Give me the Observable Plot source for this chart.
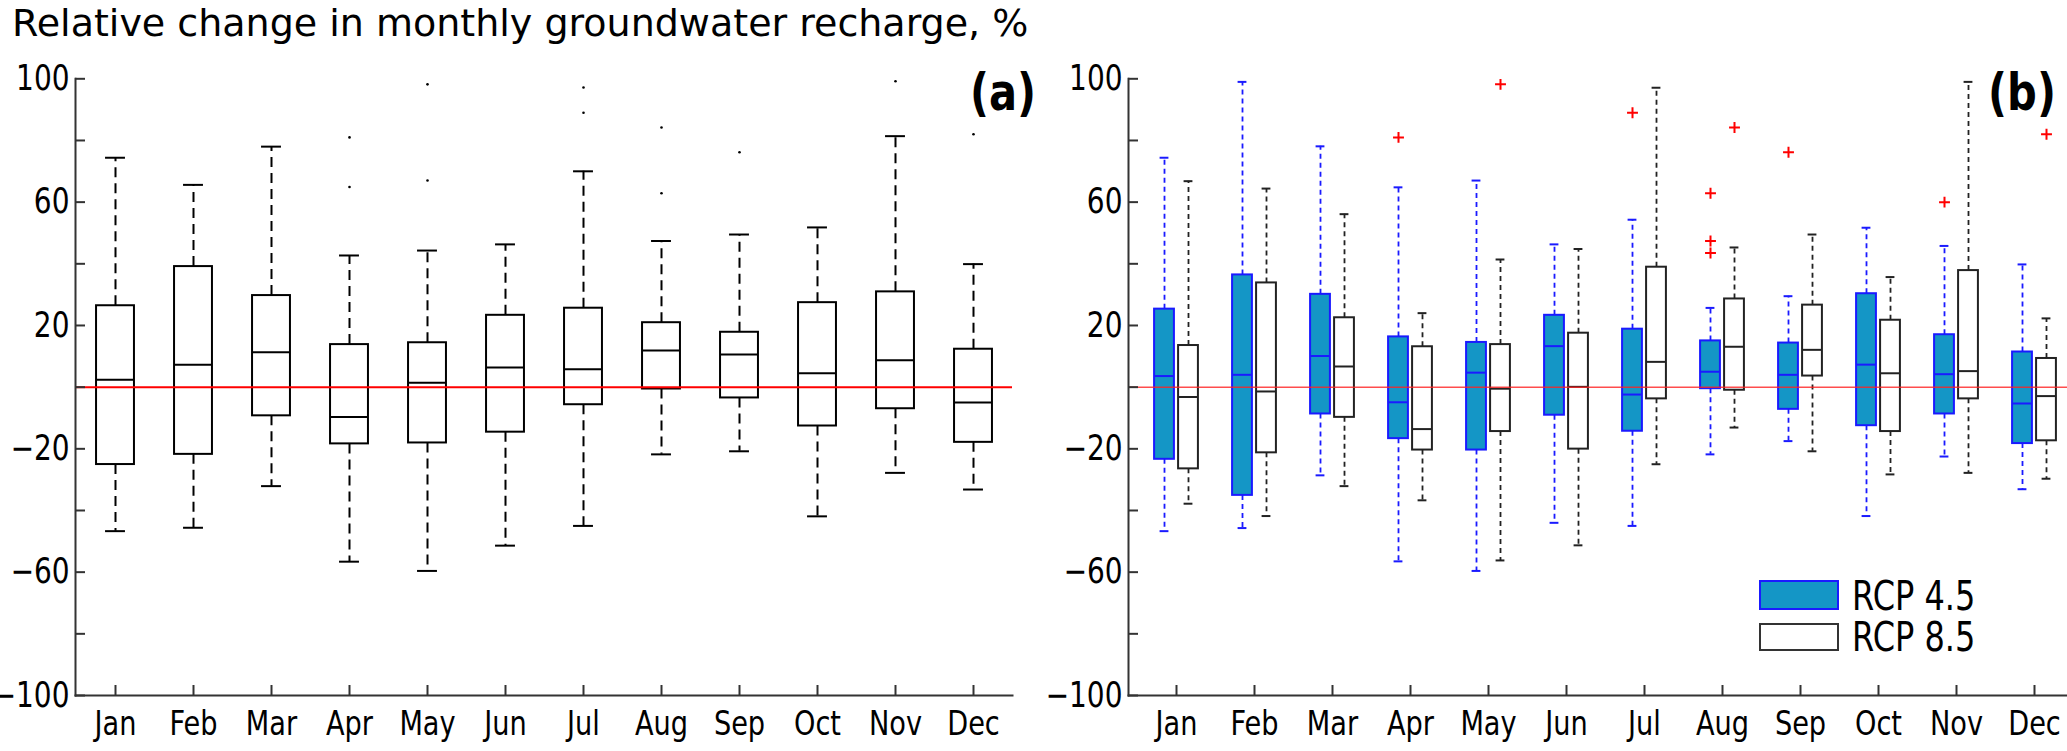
<!DOCTYPE html>
<html>
<head>
<meta charset="utf-8">
<script src="https://cdn.jsdelivr.net/npm/d3@7"></script>
<script src="https://cdn.jsdelivr.net/npm/@observablehq/plot@0.6"></script>
<style>
  html, body { margin: 0; padding: 0; background: #fff; }
  #wrap { position: relative; width: 2067px; height: 751px; overflow: hidden; font-family: "DejaVu Sans", sans-serif; color: #000; }
  .abs { position: absolute; white-space: nowrap; }
  .sq { transform: scaleX(0.8); transform-origin: left center; }
  .sqc { transform: scaleX(0.8); transform-origin: center center; text-align: center; }
  svg { position: absolute; overflow: visible; }
</style>
</head>
<body>
<div id="wrap">
  <div class="abs" id="title" style="left:12px;top:1px;font-size:38px;line-height:44px;">Relative change in monthly groundwater recharge, %</div>
  <div class="abs sqc" style="left:903px;width:200px;top:65.5px;font-size:52px;line-height:52px;font-weight:bold;">(a)</div>
  <div class="abs sqc" style="left:1922px;width:200px;top:65.5px;font-size:52px;line-height:52px;font-weight:bold;">(b)</div>
</div>
<script>
// ---------- data ----------
const months = ["Jan","Feb","Mar","Apr","May","Jun","Jul","Aug","Sep","Oct","Nov","Dec"];
const yLabelTicks = [-100, -60, -20, 20, 60, 100];
const yMinorTicks = [-100, -80, -60, -40, -20, 0, 20, 40, 60, 80, 100];
const refLine = [0];
const seriesNames = ["RCP 4.5", "RCP 8.5"];

// Panel (a): all projections
const aLow  = [-46.7, -45.6, -32.1, -56.6, -59.6, -51.4, -45.0, -21.8, -20.8, -41.9, -27.8, -33.2];
const aQ1   = [-25.1, -21.8,  -9.3, -18.4, -18.1, -14.6,  -5.7,  -0.6,  -3.5, -12.6,  -7.0, -17.9];
const aMed  = [  2.4,   7.3,  11.3,  -9.7,   1.4,   6.4,   5.8,  11.9,  10.6,   4.5,   8.7,  -5.0];
const aQ3   = [ 26.4,  39.1,  29.7,  13.8,  14.4,  23.3,  25.6,  20.9,  17.8,  27.4,  30.9,  12.3];
const aHigh = [ 74.4,  65.6,  78.0,  42.7,  44.3,  46.3,  70.0,  47.4,  49.5,  51.8,  81.4,  39.9];
const aOutMonth = ["Apr","Apr","May","May","Jul","Jul","Aug","Aug","Sep","Nov","Dec"];
const aOutValue = [ 81.0, 64.9, 98.2, 67.0, 97.2, 89.0, 84.2, 62.9, 76.2, 99.2, 82.0];

// Panel (b): RCP 4.5
const b45Low  = [-46.7, -45.7, -28.6, -56.5, -59.6, -44.0, -45.0, -21.8, -17.5, -41.8, -22.5, -33.1];
const b45Q1   = [-23.4, -35.1,  -8.7, -16.7, -20.4,  -9.1, -14.3,  -0.5,  -7.2, -12.5,  -8.7, -18.3];
const b45Med  = [  3.6,   4.0,  10.1,  -4.9,   4.7,  13.3,  -2.4,   5.0,   4.0,   7.3,   4.2,  -5.3];
const b45Q3   = [ 25.3,  36.4,  30.1,  16.3,  14.5,  23.3,  18.8,  15.0,  14.3,  30.3,  17.0,  11.4];
const b45High = [ 74.4,  99.0,  78.1,  64.8,  67.0,  46.3,  54.3,  25.7,  29.5,  51.7,  45.8,  39.8];
const b45OutMonth = ["Apr","Jul","Aug","Aug","Aug","Sep","Nov"];
const b45OutValue = [ 81.0, 89.0, 62.9, 47.4, 43.5, 76.2, 60.0];

// Panel (b): RCP 8.5
const b85Low  = [-37.8, -41.8, -32.1, -36.7, -56.2, -51.3, -25.0, -13.1, -20.8, -28.3, -27.8, -29.7];
const b85Q1   = [-26.5, -21.3,  -9.8, -20.4, -14.4, -20.1,  -3.8,  -1.0,   3.6, -14.4,  -3.8, -17.4];
const b85Med  = [ -3.2,  -1.4,   6.7, -13.6,  -0.5,   0.1,   8.2,  13.1,  12.1,   4.5,   5.2,  -2.9];
const b85Q3   = [ 13.5,  33.8,  22.5,  13.1,  13.8,  17.5,  38.9,  28.6,  26.6,  21.7,  37.8,   9.3];
const b85High = [ 66.8,  64.4,  56.1,  24.0,  41.4,  44.8,  97.1,  45.3,  49.5,  35.7,  99.0,  22.3];
const b85OutMonth = ["May","Aug","Dec"];
const b85OutValue = [ 98.2, 84.2, 82.0];

// ---------- build tables ----------
const table = (lo, q1, md, q3, hi) => months.map((m, i) => ({month: m, lo: lo[i], q1: q1[i], med: md[i], q3: q3[i], hi: hi[i]}));
const outTable = (ms, vs) => ms.map((m, i) => ({month: m, value: vs[i]}));
const dataA = table(aLow, aQ1, aMed, aQ3, aHigh);
const outA = outTable(aOutMonth, aOutValue);
const data45 = table(b45Low, b45Q1, b45Med, b45Q3, b45High);
const data85 = table(b85Low, b85Q1, b85Med, b85Q3, b85High);
const out45 = outTable(b45OutMonth, b45OutValue);
const out85 = outTable(b85OutMonth, b85OutValue);

// ---------- helpers ----------
const svgTop = 50, svgH = 701;
const mTop = 28.3, mBottom = 56;
const axisColor = "#333";

// horizontally condense the axis labels (the source figure uses narrow glyphs)
function squeeze(svg, k) {
  svg.querySelectorAll("text").forEach(t => {
    const x = +t.getAttribute("x") || 0;
    const tr = t.getAttribute("transform") || "";
    t.setAttribute("transform", `${tr} translate(${x},0) scale(${k},1) translate(${-x},0)`);
  });
}

function axes(xLabelPad) {
  return [
    Plot.frame({anchor: "left", stroke: axisColor, strokeWidth: 2}),
    Plot.frame({anchor: "bottom", stroke: axisColor, strokeWidth: 2}),
    Plot.axisY({ticks: yMinorTicks, tickSize: -10, tickFormat: () => "", stroke: axisColor, strokeWidth: 2, label: null}),
    Plot.axisY({ticks: yLabelTicks, tickSize: 0, tickPadding: 6, fontSize: 35, label: null, fill: "#000"}),
    Plot.axisX({tickSize: -10, tickFormat: () => "", stroke: axisColor, strokeWidth: 2, label: null}),
    Plot.axisX({tickSize: 0, tickPadding: xLabelPad, fontSize: 34, label: null, fill: "#000"})
  ];
}

function boxMarks(data, outs, o) {
  const {bw, boxW, capW, dx, boxFill, boxStroke, whiskStroke, dash, sw, outMark} = o;
  const boxInL = bw / 2 + dx - boxW / 2, boxInR = bw / 2 - dx - boxW / 2;
  const capInL = bw / 2 + dx - capW / 2, capInR = bw / 2 - dx - capW / 2;
  return [
    Plot.ruleX(data, {x: "month", y1: "q3", y2: "hi", dx, stroke: whiskStroke, strokeWidth: sw, strokeDasharray: dash}),
    Plot.ruleX(data, {x: "month", y1: "q1", y2: "lo", dx, stroke: whiskStroke, strokeWidth: sw, strokeDasharray: dash}),
    Plot.tickY(data, {x: "month", y: "hi", insetLeft: capInL, insetRight: capInR, stroke: whiskStroke, strokeWidth: 2}),
    Plot.tickY(data, {x: "month", y: "lo", insetLeft: capInL, insetRight: capInR, stroke: whiskStroke, strokeWidth: 2}),
    Plot.barY(data, {x: "month", y1: "q1", y2: "q3", insetLeft: boxInL, insetRight: boxInR, fill: boxFill, stroke: boxStroke, strokeWidth: 2}),
    Plot.tickY(data, {x: "month", y: "med", insetLeft: boxInL, insetRight: boxInR, stroke: boxStroke, strokeWidth: 2}),
    outMark(outs, dx)
  ];
}

const wrap = document.getElementById("wrap");

// ---------- panel (a) ----------
const aRange = [75, 1012];
const bwA = (aRange[1] - aRange[0]) / months.length;
const plotA = Plot.plot({
  width: 1030, height: svgH,
  marginLeft: 75, marginRight: 18, marginTop: mTop, marginBottom: mBottom,
  style: {fontFamily: "DejaVu Sans", fontSize: "34px", color: "#000", background: "transparent"},
  x: {type: "band", domain: months, padding: 0, range: aRange},
  y: {domain: [-100, 100]},
  marks: [
    ...boxMarks(dataA, outA, {
      bw: bwA, boxW: 38, capW: 20, dx: 0, boxFill: "#fff", boxStroke: "#000",
      whiskStroke: "#000", dash: "10,6", sw: 2,
      outMark: (d, dx) => Plot.dot(d, {x: "month", y: "value", dx, r: 1.3, fill: "#000", stroke: null})
    }),
    Plot.ruleY(refLine, {stroke: "#f00", strokeWidth: 2}),
    ...axes(15)
  ]
});
plotA.style.left = "0px";
plotA.style.top = svgTop + "px";
squeeze(plotA, 0.8);
wrap.appendChild(plotA);

// ---------- panel (b) ----------
const bLeft = 1040;
const bRange = [1136 - bLeft, 2074 - bLeft];
const bwB = (bRange[1] - bRange[0]) / months.length;
const plus = (color) => (d, dx) => Plot.dot(d, {x: "month", y: "value", dx, symbol: "plus", r: 3.6, stroke: color, strokeWidth: 2});
const plotB = Plot.plot({
  width: 2067 - bLeft, height: svgH,
  marginLeft: 1128 - bLeft, marginRight: 0, marginTop: mTop, marginBottom: mBottom,
  style: {fontFamily: "DejaVu Sans", fontSize: "34px", color: "#000", background: "transparent"},
  x: {type: "band", domain: months, padding: 0, range: bRange},
  y: {domain: [-100, 100]},
  marks: [
    ...boxMarks(data45, out45, {
      bw: bwB, boxW: 20, capW: 9, dx: -12, boxFill: "#1496c6", boxStroke: "#1a1aff",
      whiskStroke: "#1a1aff", dash: "5,4", sw: 1.8, outMark: plus("#ff0000")
    }),
    ...boxMarks(data85, out85, {
      bw: bwB, boxW: 20, capW: 9, dx: 12, boxFill: "#fff", boxStroke: "#222",
      whiskStroke: "#222", dash: "5,4", sw: 1.8, outMark: plus("#ff0000")
    }),
    Plot.ruleY(refLine, {stroke: "#ff2020", strokeOpacity: 0.8, strokeWidth: 1.5}),
    ...axes(15)
  ]
});
plotB.style.left = bLeft + "px";
plotB.style.top = svgTop + "px";
squeeze(plotB, 0.8);
wrap.appendChild(plotB);

// ---------- legend (inside panel b) ----------
const legendStyles = [
  {fill: "#1496c6", stroke: "#1a1aff", top: 580, h: 30, baseline: 610},
  {fill: "#fff", stroke: "#333", top: 623, h: 28, baseline: 651}
];
const lgFs = 40, lgLh = 34;
const lgBase = (lgLh - 1.164 * lgFs) / 2 + 0.928 * lgFs;
seriesNames.forEach((name, i) => {
  const s = legendStyles[i];
  const sw = document.createElement("div");
  sw.className = "abs";
  Object.assign(sw.style, {left: "1759px", top: s.top + "px", width: "80px", height: s.h + "px",
    boxSizing: "border-box", background: s.fill, border: `2px solid ${s.stroke}`});
  wrap.appendChild(sw);
  const tx = document.createElement("div");
  tx.className = "abs sq";
  tx.textContent = name;
  Object.assign(tx.style, {left: "1852px", top: (s.baseline - lgBase) + "px", fontSize: lgFs + "px", lineHeight: lgLh + "px"});
  wrap.appendChild(tx);
});
</script>
</body>
</html>
